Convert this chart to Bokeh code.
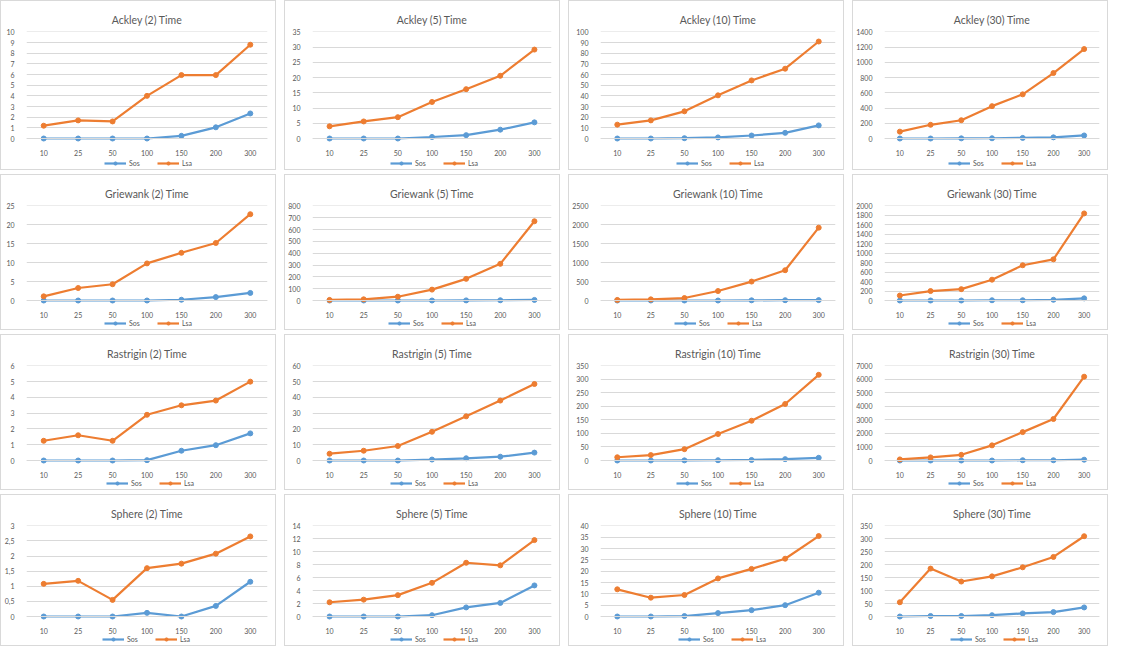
from bokeh.plotting import figure
from bokeh.models import FactorRange, Range1d, FixedTicker, Legend, LegendItem, GridBox
from bokeh.embed import file_html
from bokeh.resources import INLINE

categories = ["10", "25", "50", "100", "150", "200", "300"]

titles = [
    "Ackley (2) Time", "Ackley (5) Time", "Ackley (10) Time", "Ackley (30) Time",
    "Griewank (2) Time", "Griewank (5) Time", "Griewank (10) Time", "Griewank (30) Time",
    "Rastrigin (2) Time", "Rastrigin (5) Time", "Rastrigin (10) Time", "Rastrigin (30) Time",
    "Sphere (2) Time", "Sphere (5) Time", "Sphere (10) Time", "Sphere (30) Time",
]

# Sos series
sos_ackley_2 = [0, 0, 0, 0, 0.25, 1.05, 2.35]
sos_ackley_5 = [0, 0, 0, 0.5, 1.1, 2.9, 5.3]
sos_ackley_10 = [0, 0, 0.3, 1.0, 2.8, 5.3, 12.3]
sos_ackley_30 = [0, 0, 2, 3, 8, 15, 40]
sos_griewank_2 = [0, 0, 0, 0, 0.2, 0.9, 2.0]
sos_griewank_5 = [0, 0, 0, 0, 1, 2, 5]
sos_griewank_10 = [0, 0, 0, 0, 5, 8, 10]
sos_griewank_30 = [0, 0, 0, 5, 5, 15, 45]
sos_rastrigin_2 = [0, 0, 0, 0.02, 0.62, 0.97, 1.72]
sos_rastrigin_5 = [0, 0, 0, 0.6, 1.4, 2.4, 5.0]
sos_rastrigin_10 = [0, 0, 0.5, 1, 2, 5, 10]
sos_rastrigin_30 = [0, 0, 0, 0, 20, 20, 60]
sos_sphere_2 = [0, 0, 0, 0.12, 0, 0.35, 1.15]
sos_sphere_5 = [0, 0, 0, 0.2, 1.4, 2.1, 4.8]
sos_sphere_10 = [0, 0, 0.2, 1.5, 2.8, 5.0, 10.5]
sos_sphere_30 = [0, 2, 2, 5, 12, 17, 35]

# Lsa series
lsa_ackley_2 = [1.2, 1.7, 1.6, 4.0, 5.95, 5.95, 8.8]
lsa_ackley_5 = [4.0, 5.6, 7.0, 12.0, 16.2, 20.6, 29.2]
lsa_ackley_10 = [13, 17, 25.5, 40.5, 54.5, 65.5, 91]
lsa_ackley_30 = [90, 180, 240, 425, 580, 860, 1175]
lsa_griewank_2 = [1.1, 3.3, 4.3, 9.8, 12.6, 15.2, 22.8]
lsa_griewank_5 = [5, 10, 32, 92, 183, 310, 670]
lsa_griewank_10 = [15, 30, 65, 250, 500, 800, 1925]
lsa_griewank_30 = [105, 200, 240, 440, 745, 870, 1840]
lsa_rastrigin_2 = [1.25, 1.6, 1.25, 2.9, 3.5, 3.8, 5.0]
lsa_rastrigin_5 = [4.3, 6.2, 9.2, 18.2, 28, 38, 48.5]
lsa_rastrigin_10 = [12, 20, 42, 98, 147, 209, 317]
lsa_rastrigin_30 = [80, 230, 420, 1120, 2100, 3070, 6200]
lsa_sphere_2 = [1.08, 1.18, 0.55, 1.6, 1.75, 2.08, 2.65]
lsa_sphere_5 = [2.2, 2.6, 3.3, 5.2, 8.3, 7.9, 11.8]
lsa_sphere_10 = [12, 8.3, 9.5, 16.8, 21, 25.5, 35.5]
lsa_sphere_30 = [55, 185, 135, 155, 190, 230, 310]

sos_all = [sos_ackley_2, sos_ackley_5, sos_ackley_10, sos_ackley_30,
           sos_griewank_2, sos_griewank_5, sos_griewank_10, sos_griewank_30,
           sos_rastrigin_2, sos_rastrigin_5, sos_rastrigin_10, sos_rastrigin_30,
           sos_sphere_2, sos_sphere_5, sos_sphere_10, sos_sphere_30]
lsa_all = [lsa_ackley_2, lsa_ackley_5, lsa_ackley_10, lsa_ackley_30,
           lsa_griewank_2, lsa_griewank_5, lsa_griewank_10, lsa_griewank_30,
           lsa_rastrigin_2, lsa_rastrigin_5, lsa_rastrigin_10, lsa_rastrigin_30,
           lsa_sphere_2, lsa_sphere_5, lsa_sphere_10, lsa_sphere_30]

# y-axis maximum and tick step for each panel
y_max = [10, 35, 100, 1400, 25, 800, 2500, 2000, 6, 60, 350, 7000, 3, 14, 40, 350]
y_step = [1, 5, 10, 200, 5, 100, 500, 200, 1, 10, 50, 1000, 0.5, 2, 5, 50]

series_names = ["Sos", "Lsa"]
BLUE = "#5B9BD5"
ORANGE = "#ED7D31"
FONT = "Lato"
TXT = "#595959"

col_widths = [276, 276, 276, 256]
row_heights = [170, 156, 156, 152]
TOP = 30          # space above the plotting area (title)
BELOW_ZERO = [33, 31, 31, 31]   # pixels below the zero line (x labels + legend)
BORDER_RIGHT = 10
LEGEND_W = 90

children = []
for i, t in enumerate(titles):
    r, c = divmod(i, 4)
    ym = y_max[i]
    st = y_step[i]
    n = int(round(ym / st))
    ticks = [round(k * st, 6) for k in range(n + 1)]
    if st < 1:
        labels = {tk: (str(tk).replace(".", ",") if tk % 1 else str(int(tk))) for tk in ticks}
    else:
        labels = {tk: str(int(tk)) for tk in ticks}
    maxlen = max(len(s) for s in labels.values())
    bl = 12 + 4 * maxlen
    w = col_widths[c]
    h = row_heights[r]
    frame_h = h - TOP
    bz = BELOW_ZERO[r]
    y_end = ym * 1.004
    y_start = -bz * y_end / (frame_h - bz)
    p = figure(width=w, height=h,
               x_range=FactorRange(*categories),
               y_range=Range1d(y_start, y_end),
               output_backend="svg", toolbar_location=None,
               min_border_left=bl, min_border_right=BORDER_RIGHT,
               min_border_top=TOP, min_border_bottom=0,
               styles={"border": "1px solid #d9d9d9"})
    p.title.text = t
    p.title.align = "center"
    p.title.text_font = FONT
    p.title.text_font_size = "10.5px"
    p.title.text_font_style = "normal"
    p.title.text_color = TXT
    p.title.standoff = 11
    p.outline_line_color = None
    p.border_fill_color = "white"
    p.background_fill_color = "white"

    p.xgrid.grid_line_color = None
    p.ygrid.grid_line_color = "#d9d9d9"
    p.ygrid.grid_line_width = 1
    p.yaxis.ticker = FixedTicker(ticks=ticks)
    p.yaxis.major_label_overrides = labels
    for ax in (p.xaxis, p.yaxis):
        ax.axis_line_color = None
        ax.major_tick_line_color = None
        ax.minor_tick_line_color = None
        ax.major_label_text_font = FONT
        ax.major_label_text_font_size = "7px"
        ax.major_label_text_color = TXT
    p.xaxis.fixed_location = 0
    p.xaxis.axis_line_color = "#d9d9d9"
    p.xaxis.major_label_standoff = 5
    p.yaxis.major_label_standoff = 6

    ls = p.line(categories, sos_all[i], line_color=BLUE, line_width=2.2)
    ms = p.scatter(categories, sos_all[i], size=5, fill_color=BLUE, line_color=BLUE)
    ll = p.line(categories, lsa_all[i], line_color=ORANGE, line_width=2.2)
    ml = p.scatter(categories, lsa_all[i], size=5, fill_color=ORANGE, line_color=ORANGE)

    frame_w = w - bl - BORDER_RIGHT
    legend = Legend(items=[LegendItem(label=series_names[0], renderers=[ls, ms]),
                           LegendItem(label=series_names[1], renderers=[ll, ml])],
                    orientation="horizontal",
                    location=((frame_w - LEGEND_W) / 2, 4),
                    label_text_font=FONT, label_text_font_size="7px",
                    label_text_color=TXT, border_line_color=None,
                    background_fill_alpha=0, glyph_width=22, glyph_height=8,
                    label_height=8, padding=2, margin=0, spacing=8,
                    label_standoff=3)
    p.add_layout(legend)
    children.append((p, r, c))

grid = GridBox(children=children, spacing=(4, 8))

open("out.html", "w").write(file_html(grid, INLINE))
